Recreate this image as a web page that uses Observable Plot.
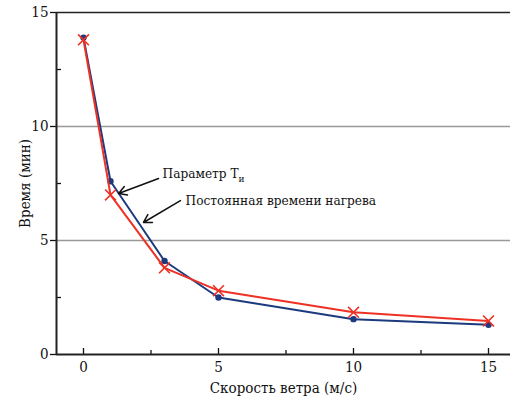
<!DOCTYPE html>
<html><head><meta charset="utf-8">
<script src="https://cdn.jsdelivr.net/npm/d3@7"></script>
<script src="https://cdn.jsdelivr.net/npm/@observablehq/plot@0.6"></script>
<style>
body{margin:0;background:#fff}
</style>
</head><body><div id="chart"></div>
<script>
const speeds = [0, 1, 3, 5, 10, 15];
const paramT = [13.9, 7.6, 4.1, 2.5, 1.55, 1.3];
const heatConst = [13.8, 7.0, 3.8, 2.8, 1.85, 1.47];
const xTicks = [0, 5, 10, 15];
const xMinor = [2.5, 7.5, 12.5];
const yTicks = [0, 5, 10, 15];
const yMinor = [2.5, 7.5, 12.5];
const gridY = [5, 10];
const labels = [
  {x: 2.93, y: 7.94, text: "Параметр T", sub: "и"},
  {x: 3.78, y: 6.75, text: "Постоянная времени нагрева", sub: ""}
];
const arrows = [
  {x1: 2.78, y1: 7.72, x2: 1.30, y2: 7.06},
  {x1: 3.59, y1: 6.75, x2: 2.22, y2: 5.79}
];

const blue = speeds.map((s, i) => ({x: s, y: paramT[i]}));
const red = speeds.map((s, i) => ({x: s, y: heatConst[i]}));
const font = "DejaVu Serif Condensed, DejaVu Serif";

const chart = Plot.plot({
  width: 510, height: 400,
  marginLeft: 56, marginTop: 12, marginRight: 0, marginBottom: 46,
  style: {fontFamily: font, fontSize: "15px", color: "#111", background: "#fff"},
  x: {domain: [-1, 15.815]},
  y: {domain: [0, 15]},
  marks: [
    Plot.ruleY(gridY, {stroke: "#999", strokeWidth: 1.5}),
    Plot.ruleY([15], {stroke: "#222", strokeWidth: 1.5}),
    Plot.axisX({ticks: xTicks, tickSize: -6, tickPadding: 13, strokeWidth: 1.3, fontSize: 15, fontFamily: font,
      label: "Скорость ветра (м/с)", labelAnchor: "center", labelArrow: "none", labelOffset: 38}),
    Plot.axisX({ticks: xMinor, tickSize: -4, tickFormat: () => "", strokeWidth: 1.3, label: null}),
    Plot.axisY({ticks: yTicks, tickSize: 6, tickPadding: 2, strokeWidth: 1.3, fontSize: 15, fontFamily: font,
      label: "Время (мин)", labelAnchor: "center", labelArrow: "none", labelOffset: 37}),
    Plot.axisY({ticks: yMinor, tickSize: -5, tickFormat: () => "", strokeWidth: 1.3, label: null}),
    Plot.ruleY([0], {stroke: "#222", strokeWidth: 2}),
    Plot.ruleX([-1], {stroke: "#222", strokeWidth: 2}),
    Plot.line(blue, {x: "x", y: "y", stroke: "#1c3a7e", strokeWidth: 2}),
    Plot.dot(blue, {x: "x", y: "y", r: 3.2, fill: "#1c3a7e", stroke: "none"}),
    Plot.line(red, {x: "x", y: "y", stroke: "#ee3124", strokeWidth: 2}),
    Plot.dot(red, {x: "x", y: "y", symbol: "times", r: 5, stroke: "#ee3124", strokeWidth: 1.6}),
    Plot.arrow(arrows, {x1: "x1", y1: "y1", x2: "x2", y2: "y2", stroke: "#111", strokeWidth: 1.5, headLength: 9}),
    Plot.text(labels, {x: "x", y: "y", text: "text", textAnchor: "start", fontSize: 13.5, fill: "#111", fontFamily: font, className: "annot"})
  ]
});
// append subscripts as tspans
d3.select(chart).selectAll(".annot text").each(function() {
  const t = d3.select(this);
  const lab = labels.find(l => l.text === t.text());
  if (lab && lab.sub) {
    t.append("tspan").attr("dy", "0.45em").attr("font-size", 10).text(lab.sub);
  }
});
document.getElementById("chart").appendChild(chart);
</script>
</body></html>
